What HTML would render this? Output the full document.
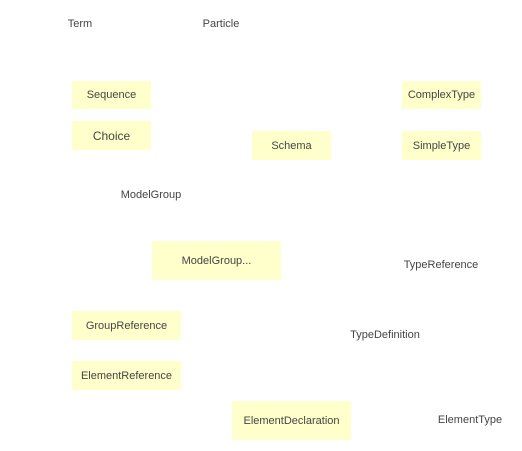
<!DOCTYPE html>
<html><head><style>
body{margin:0;width:522px;height:451px;background:#fff;position:relative;font-family:"Liberation Sans",sans-serif;font-size:11px;color:#444;overflow:hidden}
.b{position:absolute;background:#ffffcc;display:flex;align-items:center;justify-content:center;white-space:nowrap}
.t{position:absolute;transform:translate(-50%,-50%);white-space:nowrap}
</style></head><body>
<div class="t" style="left:80px;top:24px">Term</div>
<div class="t" style="left:221px;top:24px">Particle</div>
<div class="b" style="left:72px;top:81px;width:79px;height:28px">Sequence</div>
<div class="b" style="left:72px;top:121px;width:79px;height:29px;font-size:12px">Choice</div>
<div class="b" style="left:252px;top:131px;width:79px;height:29px">Schema</div>
<div class="b" style="left:402px;top:81px;width:79px;height:28px">ComplexType</div>
<div class="b" style="left:402px;top:131px;width:79px;height:29px">SimpleType</div>
<div class="t" style="left:151px;top:195px">ModelGroup</div>
<div class="b" style="left:152px;top:241px;width:129px;height:39px">ModelGroup...</div>
<div class="t" style="left:441px;top:265px">TypeReference</div>
<div class="b" style="left:72px;top:311px;width:109px;height:29px">GroupReference</div>
<div class="t" style="left:385px;top:335px">TypeDefinition</div>
<div class="b" style="left:72px;top:361px;width:109px;height:29px">ElementReference</div>
<div class="b" style="left:232px;top:401px;width:119px;height:39px">ElementDeclaration</div>
<div class="t" style="left:470px;top:420px">ElementType</div>
</body></html>
